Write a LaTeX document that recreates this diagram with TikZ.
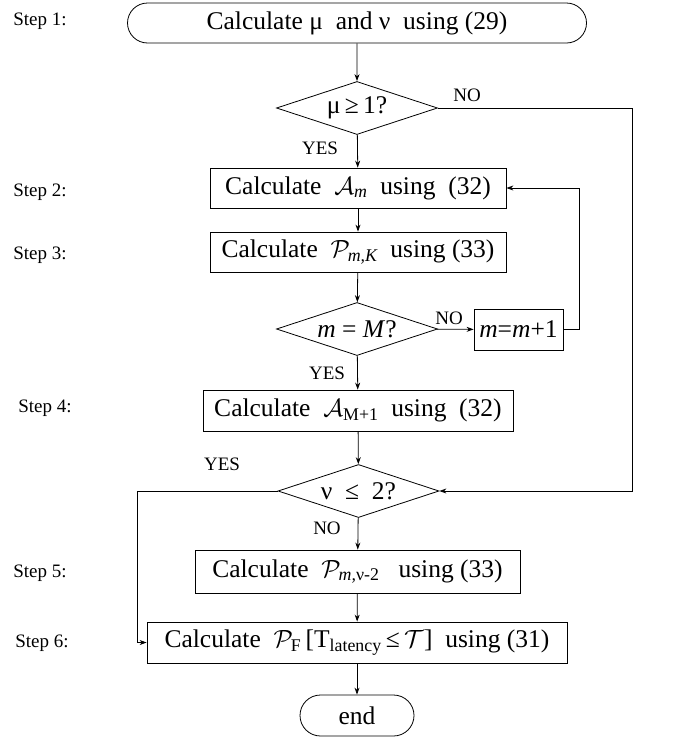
\documentclass[tikz,border=0pt]{standalone}
\usepackage{amsmath}
\usepackage{fontspec}
\setmainfont{Liberation Serif}
\usetikzlibrary{arrows.meta, positioning, shapes.geometric, shapes.misc}

\begin{document}
\begin{tikzpicture}[x=1pt, y=-1pt, >={Stealth[length=7pt,width=5pt]},
  every node/.style={font=\fontsize{25.5}{28}\selectfont},
  proc/.style={draw, rectangle, line width=0.8pt, minimum height=40, inner sep=0},
  term/.style={draw, rounded rectangle, line width=0.8pt, minimum height=40, inner sep=0},
  decision/.style={draw, diamond, aspect=3, line width=0.8pt, inner sep=0, minimum width=161, minimum height=53},
  steplabel/.style={font=\fontsize{19}{22}\selectfont},
  answer/.style={font=\fontsize{19}{22}\selectfont},
  flow/.style={->, line width=0.8pt}]
  \useasboundingbox (0,0) rectangle (689,742);

  % step labels
  \node[steplabel] (s1) at (40,21) {Step 1:};
  \node[steplabel] (s2) at (40,192) {Step 2:};
  \node[steplabel] (s3) at (40,255) {Step 3:};
  \node[steplabel] (s4) at (45,408) {Step 4:};
  \node[steplabel] (s5) at (40,573) {Step 5:};
  \node[steplabel] (s6) at (42,643) {Step 6:};

  % boxes
  \node[term, minimum width=459] (start) at (357,23) {Calculate μ\ \ and ν\ \ using (29)};
  \node[decision] (mutest) at (357,108) {μ\,≥\,1?};
  \node[proc, minimum width=296] (calcA) at (358,188) {Calculate\ \ $\mathcal{A}_{\textit{m}}$\ \ using\ \ (32)};
  \node[proc, minimum width=296] (calcP) at (358,252) {Calculate\ \ $\mathcal{P}_{\textit{m,K}}$\ \ using (33)};
  \node[decision] (mtest) at (357,329) {\textit{m} = \textit{M}?};
  \node[proc, minimum width=89, minimum height=41] (incm) at (518.5,329.5) {\textit{m}=\textit{m}+1};
  \node[proc, minimum width=310, minimum height=41] (calcAM) at (358,410.5) {Calculate\ \ $\mathcal{A}_{\text{M+1}}$\ \ using\ \ (32)};
  \node[decision] (nutest) at (358.5,491) {ν\ \ ≤\ \ 2?};
  \node[proc, minimum width=325, minimum height=43] (calcPnu) at (357.5,571.5) {Calculate\ \ $\mathcal{P}_{\textit{m,}\text{ν-2}}$\ \ \ using (33)};
  \node[proc, minimum width=420, minimum height=41] (calcPF) at (357,642.5) {Calculate\ \ $\mathcal{P}_{\text{F}}$\,[T$_{\text{latency}}$\,≤\,$\mathcal{T}$]\ \ using (31)};
  \node[term, minimum width=114, minimum height=41] (finish) at (357,715.5) {end};

  % YES / NO
  \node[answer] (no1) at (467,95) {NO};
  \node[answer] (yes1) at (320,148) {YES};
  \node[answer] (no2) at (449,318) {NO};
  \node[answer] (yes2) at (327,373) {YES};
  \node[answer] (yes3) at (222,464) {YES};
  \node[answer] (no3) at (327,528) {NO};

  % connectors
  \draw[flow] (start) -- (mutest);
  \draw[flow] (mutest) -- (calcA);
  \draw[flow] (calcA) -- (calcP);
  \draw[flow] (calcP) -- (mtest);
  \draw[flow] (mtest) -- (incm);
  \draw[flow] (incm.east) -- ++(16,0) |- (calcA.east);
  \draw[flow] (mtest) -- (calcAM);
  \draw[flow] (calcAM) -- (nutest);
  \draw[flow] (mutest.east) -- ++(194,0) |- (nutest.east);
  \draw[flow] (nutest.west) -- ++(-140,0) |- (calcPF.west);
  \draw[flow] (nutest) -- (calcPnu);
  \draw[flow] (calcPnu) -- (calcPF);
  \draw[flow] (calcPF) -- (finish);
\end{tikzpicture}
\end{document}
